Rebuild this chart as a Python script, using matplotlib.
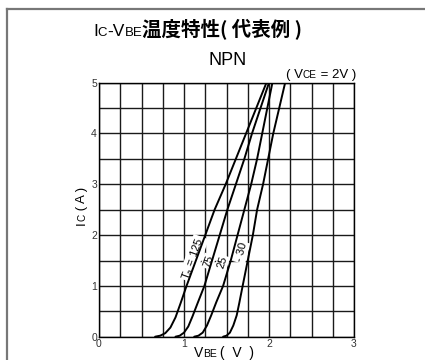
import matplotlib
matplotlib.use("Agg")
import matplotlib.pyplot as plt
from matplotlib.lines import Line2D

SANS = "Liberation Sans"
CJK = "Noto Sans CJK JP"
W, H = 425, 360

# Ic-VBE curves (VBE in V, Ic in A)
temps = ["125", "75", "25", "-30"]
vbe_125 = [0.66, 0.72, 0.78, 0.84, 0.90, 0.96, 1.03, 1.14, 1.25, 1.36, 1.49, 1.61, 1.73, 1.85, 1.97]
ic_125 = [0.0, 0.02, 0.07, 0.18, 0.38, 0.66, 1.0, 1.5, 2.0, 2.5, 3.0, 3.5, 4.0, 4.5, 5.0]
vbe_75 = [0.90, 0.95, 1.00, 1.05, 1.10, 1.16, 1.24, 1.33, 1.42, 1.51, 1.61, 1.71, 1.80, 1.90, 2.00]
ic_75 = [0.0, 0.02, 0.08, 0.20, 0.40, 0.66, 1.0, 1.5, 2.0, 2.5, 3.0, 3.5, 4.0, 4.5, 5.0]
vbe_25 = [1.12, 1.17, 1.22, 1.27, 1.32, 1.38, 1.46, 1.55, 1.63, 1.71, 1.79, 1.86, 1.92, 1.98, 2.04]
ic_25 = [0.0, 0.02, 0.08, 0.22, 0.42, 0.68, 1.0, 1.5, 2.0, 2.5, 3.0, 3.5, 4.0, 4.5, 5.0]
vbe_m30 = [1.46, 1.50, 1.54, 1.58, 1.62, 1.65, 1.69, 1.75, 1.81, 1.86, 1.93, 1.99, 2.05, 2.12, 2.19]
ic_m30 = [0.0, 0.02, 0.08, 0.22, 0.42, 0.66, 1.0, 1.5, 2.0, 2.5, 3.0, 3.5, 4.0, 4.5, 5.0]
curves = [(vbe_125, ic_125), (vbe_75, ic_75), (vbe_25, ic_25), (vbe_m30, ic_m30)]

# where the temperature labels sit (VBE, Ic) and their angle
label_pos = [(1.11, 1.54), (1.285, 1.48), (1.45, 1.46), (1.68, 1.66)]
label_txt = [r"T$_{\mathregular{a}}$ = 125", "75", "25", "- 30"]
label_rot = [70, 70, 72, 75]

x_ticks = [0, 1, 2, 3]
y_ticks = [0, 1, 2, 3, 4, 5]


def put_runs(fig, x, y, runs, align="left", rotation=0):
    """Write pieces of text one after the other on a shared baseline (pixels)."""
    r = fig.canvas.get_renderer()
    texts = []
    widths = []
    for s, size, fam, weight in runs:
        t = fig.text(0, 0, s, fontsize=size, family=fam, weight=weight,
                     ha="left", va="baseline", rotation=rotation,
                     rotation_mode="anchor")
        bb = t.get_window_extent(r)
        texts.append(t)
        widths.append(bb.height if rotation else bb.width)
    total = sum(widths)
    if align == "right":
        start = -total
    elif align == "center":
        start = -total / 2
    else:
        start = 0
    cur = start
    for t, w in zip(texts, widths):
        if rotation:
            t.set_position((x / W, 1 - (y - cur) / H))
        else:
            t.set_position(((x + cur) / W, 1 - y / H))
        cur += w


def main():
    fig = plt.figure(figsize=(W / 100, H / 100), dpi=100)
    ax = fig.add_axes([99 / W, 1 - 336.7 / H, 255 / W, 254 / H])

    ax.set_xlim(0, 3)
    ax.set_ylim(0, 5)
    ax.set_xticks(x_ticks)
    ax.set_yticks(y_ticks)
    ax.set_xticks([i * 0.25 for i in range(13)], minor=True)
    ax.set_yticks([i * 0.5 for i in range(11)], minor=True)
    ax.set_xticklabels([str(v) for v in x_ticks], fontsize=7.5, family=SANS, color="#333")
    ax.set_yticklabels([str(v) for v in y_ticks], fontsize=7.5, family=SANS, color="#333")
    ax.tick_params(which="both", length=0, pad=1.5)
    ax.grid(which="both", color="#1a1a1a", lw=1.0, zorder=1)
    ax.set_axisbelow(True)
    for sp in ax.spines.values():
        sp.set_linewidth(1.0)
        sp.set_color("black")

    for (vx, iy) in curves:
        ax.plot(vx, iy, color="black", lw=1.4, zorder=4, solid_capstyle="round")

    for (px, py), txt, rot in zip(label_pos, label_txt, label_rot):
        ax.text(px, py, txt, fontsize=8, family=SANS, rotation=rot,
                ha="center", va="center", rotation_mode="anchor", zorder=3,
                bbox=dict(facecolor="white", edgecolor="none", pad=0.8))

    # title
    put_runs(fig, 93, 36, [
        ("I", 12.5, SANS, "normal"),
        ("C", 9.5, SANS, "normal"),
        ("-V", 12.5, SANS, "normal"),
        ("BE", 9.5, SANS, "normal"),
        ("温度特性( 代表例 )", 14, CJK, "bold"),
    ])
    fig.text(228 / W, 1 - 65 / H, "NPN", fontsize=13, family=SANS,
             ha="center", va="baseline")
    put_runs(fig, 356, 78, [
        ("( V", 9.5, SANS, "normal"),
        ("CE", 7.2, SANS, "normal"),
        (" = 2V )", 9.5, SANS, "normal"),
    ], align="right")

    # axis titles
    put_runs(fig, 224, 357, [
        ("V", 10, SANS, "normal"),
        ("BE", 7.5, SANS, "normal"),
        (" (  V  )", 10, SANS, "normal"),
    ], align="center")
    put_runs(fig, 85, 206, [
        ("I", 9.5, SANS, "normal"),
        ("C", 7.2, SANS, "normal"),
        (" ( A )", 9.5, SANS, "normal"),
    ], align="center", rotation=90)

    # outer frame of the original figure
    fx, fy = 7 / W, 1 - 9 / H
    fig.add_artist(Line2D([fx, fx], [0, fy], color="#777", lw=1.6))
    fig.add_artist(Line2D([fx, 1], [fy, fy], color="#777", lw=1.6))

    fig.savefig("out.png", dpi=100)


main() if __name__ == "__main__" else None
